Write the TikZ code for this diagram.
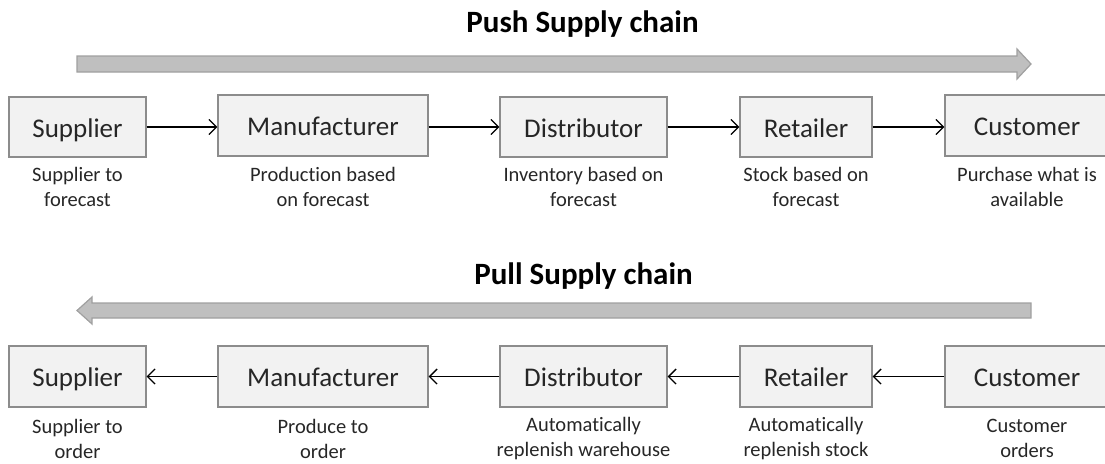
\documentclass[tikz,border=0pt]{standalone}
\usepackage{fontspec}
\setmainfont{Carlito}[Ligatures=NoCommon]
\usetikzlibrary{arrows.meta}
\definecolor{boxfill}{HTML}{F2F2F2}
\definecolor{boxline}{HTML}{8C8C8C}
\definecolor{bigfill}{HTML}{BFBFBF}
\definecolor{bigline}{HTML}{A0A0A0}
\definecolor{txt}{HTML}{262626}
\begin{document}
\begin{tikzpicture}[x=1pt,y=-1pt,
  box/.style={draw=boxline, fill=boxfill, line width=1.3pt, inner sep=0pt,
    text=txt, font=\fontsize{27}{32}\selectfont, text height=22pt, text depth=2pt},
  lbl/.style={align=center, text=txt, inner sep=0pt,
    font=\fontsize{20.5}{25}\selectfont},
  ttl/.style={font=\fontsize{31}{36}\selectfont\bfseries, inner sep=0pt},
  conn/.style={line width=1.3pt, black, -{Straight Barb[length=7.5pt,width=15pt,line width=1.3pt]}},
  bigarrow/.style={fill=bigfill, draw=bigline, line width=1.2pt, line join=miter}
]
\useasboundingbox (0,0) rectangle (1105,463);

% titles
\node[ttl] (t1) at (582.5,24) {Push Supply chain};
\node[ttl] (t2) at (583.5,276) {Pull Supply chain};

% big arrows
\draw[bigarrow] (77,56) -- (1017,56) -- (1017,49) -- (1031,64) -- (1017,79)
  -- (1017,72) -- (77,72) -- cycle;
\draw[bigarrow] (1031,303) -- (92,303) -- (92,297) -- (77,310.5) -- (92,324)
  -- (92,318) -- (1031,318) -- cycle;

% top row
\node[box, minimum width=137pt, minimum height=60pt] (s1) at (77.5,127) {Supplier};
\node[box, minimum width=210pt, minimum height=61pt] (m1) at (323,125.5) {Manufacturer};
\node[box, minimum width=167pt, minimum height=60pt] (d1) at (583.5,127) {Distributor};
\node[box, minimum width=132pt, minimum height=60pt] (r1) at (806,127) {Retailer};
\node[box, minimum width=164pt, minimum height=61pt] (c1) at (1027,125.5) {Customer};

\draw[conn] (s1.east) -- (s1.east -| m1.west);
\draw[conn] (m1.east |- d1.east) -- (d1.west);
\draw[conn] (d1.east) -- (r1.west);
\draw[conn] (r1.east) -- (r1.east -| c1.west);

\node[lbl] (ls1) at (77.5,187) {Supplier to\\forecast};
\node[lbl] (lm1) at (323,187) {Production based\\on forecast};
\node[lbl] (ld1) at (583.5,187) {Inventory based on\\forecast};
\node[lbl] (lr1) at (806,187) {Stock based on\\forecast};
\node[lbl] (lc1) at (1027,187) {Purchase what is\\available};

% bottom row
\node[box, minimum width=137pt, minimum height=61pt] (s2) at (77.5,376.5) {Supplier};
\node[box, minimum width=210pt, minimum height=61pt] (m2) at (323,376.5) {Manufacturer};
\node[box, minimum width=167pt, minimum height=61pt] (d2) at (583.5,376.5) {Distributor};
\node[box, minimum width=132pt, minimum height=61pt] (r2) at (806,376.5) {Retailer};
\node[box, minimum width=164pt, minimum height=61pt] (c2) at (1027,376.5) {Customer};

\draw[conn] (m2.west) -- (s2.east);
\draw[conn] (d2.west) -- (m2.east);
\draw[conn] (r2.west) -- (d2.east);
\draw[conn] (c2.west) -- (r2.east);

\node[lbl] (ls2) at (77.5,438.5) {Supplier to\\order};
\node[lbl] (lm2) at (323,438.5) {Produce to\\order};
\node[lbl] (ld2) at (583.5,438.5) {Automatically\\replenish warehouse};
\node[lbl] (lr2) at (806,438.5) {Automatically\\replenish stock};
\node[lbl] (lc2) at (1027,438.5) {Customer\\orders};
\end{tikzpicture}
\end{document}
